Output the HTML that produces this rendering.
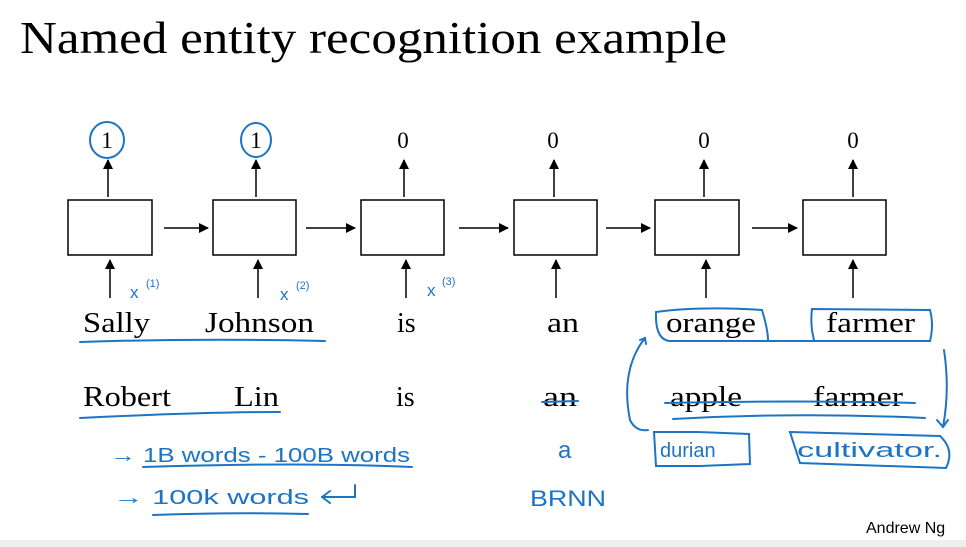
<!DOCTYPE html>
<html><head><meta charset="utf-8"><style>
html,body{margin:0;padding:0;background:#fff;width:966px;height:547px;overflow:hidden}
svg{display:block}
.s{font-family:"Liberation Serif",serif;fill:#000}
.h{font-family:"Liberation Sans",sans-serif;fill:#1d74c4}
</style></head><body>
<svg width="966" height="547" viewBox="0 0 966 547" xmlns="http://www.w3.org/2000/svg">
<defs><marker id="a" markerWidth="10" markerHeight="10" refX="9" refY="5" orient="auto" markerUnits="userSpaceOnUse"><path d="M0,0 L10,5 L0,10 z" fill="#000"/></marker></defs>
<rect x="0" y="540" width="966" height="7" fill="#eeeeee"/>
<text x="20" y="53" class="s" font-size="46" textLength="707" lengthAdjust="spacingAndGlyphs">Named entity recognition example</text>
<g stroke="#000" stroke-width="1.5" fill="none">
<rect x="68" y="200" width="84" height="55"/>
<rect x="213" y="200" width="83" height="55"/>
<rect x="361" y="200" width="83" height="55"/>
<rect x="514" y="200" width="83" height="55"/>
<rect x="655" y="200" width="84" height="55"/>
<rect x="803" y="200" width="83" height="55"/>
</g>
<g stroke="#000" stroke-width="1.5" marker-end="url(#a)">
<line x1="164" y1="228" x2="208" y2="228"/>
<line x1="306" y1="228" x2="355" y2="228"/>
<line x1="459" y1="228" x2="508" y2="228"/>
<line x1="606" y1="228" x2="650" y2="228"/>
<line x1="752" y1="228" x2="797" y2="228"/>
<line x1="108" y1="197" x2="108" y2="160"/>
<line x1="256" y1="197" x2="256" y2="160"/>
<line x1="404" y1="197" x2="404" y2="160"/>
<line x1="554" y1="197" x2="554" y2="160"/>
<line x1="704" y1="197" x2="704" y2="160"/>
<line x1="853" y1="197" x2="853" y2="160"/>
<line x1="110" y1="298" x2="110" y2="260"/>
<line x1="258" y1="298" x2="258" y2="260"/>
<line x1="406" y1="298" x2="406" y2="260"/>
<line x1="556" y1="298" x2="556" y2="260"/>
<line x1="706" y1="298" x2="706" y2="260"/>
<line x1="853" y1="298" x2="853" y2="260"/>
</g>
<g class="s" font-size="23" text-anchor="middle">
<text x="107" y="148">1</text><text x="256" y="148">1</text><text x="403" y="148">0</text>
<text x="553" y="148">0</text><text x="704" y="148">0</text><text x="853" y="148">0</text>
</g>
<g class="s" font-size="28">
<text x="83" y="332" textLength="67" lengthAdjust="spacingAndGlyphs">Sally</text>
<text x="205" y="332" textLength="109" lengthAdjust="spacingAndGlyphs">Johnson</text>
<text x="397" y="332">is</text>
<text x="547" y="332" textLength="32" lengthAdjust="spacingAndGlyphs">an</text>
<text x="666" y="332" textLength="90" lengthAdjust="spacingAndGlyphs">orange</text>
<text x="826" y="332" textLength="89" lengthAdjust="spacingAndGlyphs">farmer</text>
<text x="83" y="406" textLength="88" lengthAdjust="spacingAndGlyphs">Robert</text>
<text x="234" y="406" textLength="45" lengthAdjust="spacingAndGlyphs">Lin</text>
<text x="396" y="406">is</text>
<text x="543" y="406" textLength="34" lengthAdjust="spacingAndGlyphs">an</text>
<text x="670" y="406" textLength="72" lengthAdjust="spacingAndGlyphs">apple</text>
<text x="813" y="406" textLength="90" lengthAdjust="spacingAndGlyphs">farmer</text>
</g>
<text x="866" y="533" font-family="Liberation Sans,sans-serif" font-size="16">Andrew Ng</text>
<g class="h" font-size="17">
<text x="130" y="298">x</text><text x="146" y="287" font-size="11">(1)</text>
<text x="280" y="300">x</text><text x="296" y="289" font-size="11">(2)</text>
<text x="427" y="296">x</text><text x="442" y="285" font-size="11">(3)</text>
<text x="110" y="462" font-size="20" textLength="300" lengthAdjust="spacingAndGlyphs">→ 1B  words - 100B words</text>
<text x="113" y="504" font-size="20" textLength="196" lengthAdjust="spacingAndGlyphs">→ 100k   words</text>
<text x="558" y="458" font-size="24">a</text>
<text x="530" y="506" font-size="22" textLength="76" lengthAdjust="spacingAndGlyphs">BRNN</text>
<text x="660" y="457" font-size="20">durian</text>
<text x="797" y="457" font-size="20" textLength="145" lengthAdjust="spacingAndGlyphs">cultivator.</text>
</g>
<g stroke="#1d74c4" stroke-width="2" fill="none" stroke-linecap="round">
<ellipse cx="107" cy="140" rx="17" ry="18"/>
<ellipse cx="256" cy="140" rx="15" ry="17"/>
<path d="M80,342 Q200,338 325,341"/>
<path d="M80,418 Q200,412 280,412"/>
<path d="M542,402 L578,401"/>
<path d="M665,403 Q800,400 915,403"/>
<path d="M673,419 Q800,412 925,418"/>
<path d="M143,467 Q300,462 412,467"/>
<path d="M153,515 Q230,512 308,514"/>
<path d="M355,485 L355,497 L322,497"/>
<path d="M322,497 L330,491 M322,497 L330,503"/>
<path d="M656,312 Q655,340 670,341 L930,341 Q934,325 930,310 L812,309 Q810,325 814,340"/>
<path d="M656,312 Q700,306 762,310 Q768,330 768,340"/>
<path d="M654,432 L698,432 L749,434 L750,464 L700,466 L656,466 Z"/>
<path d="M790,432 L940,436 Q955,450 946,468 L800,463 Z"/>
<path d="M645,338 Q620,370 630,420 Q636,432 648,430"/>
<path d="M640,340 L645,338 L646,344"/>
<path d="M944,350 Q950,390 943,427"/>
<path d="M937,420 L943,427 L948,420"/>
</g>
</svg>
</body></html>
